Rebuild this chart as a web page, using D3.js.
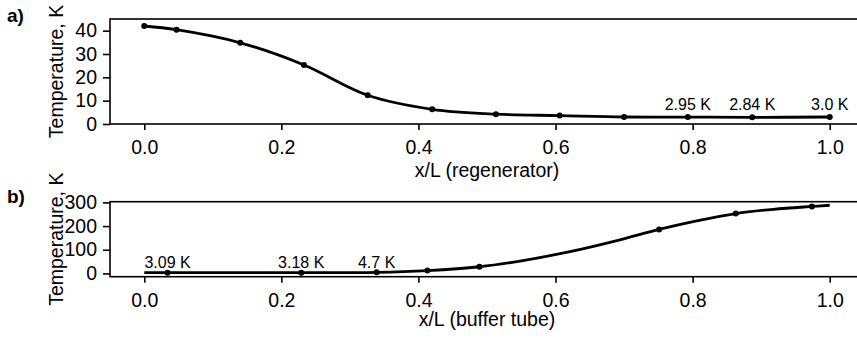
<!DOCTYPE html>
<html lang="en">
<head>
    <meta charset="UTF-8">
    <title>Temperature profiles</title>
    <script src="https://d3js.org/d3.v7.min.js"></script>
    <style>
        body { margin: 0; background: #fff; }
        svg { display: block; font-family: "Liberation Sans", Arial, sans-serif; }
        .tick text { font-size: 19.5px; fill: #000; }
        .tick line { stroke: #000; stroke-width: 1.6; }
        .frame { fill: none; stroke: #000; stroke-width: 1.6; }
        .curve { fill: none; stroke: #000; stroke-width: 2.8; }
    </style>
</head>
<body>
    <svg width="857" height="344"></svg>

    <script>
        // panel a: regenerator (markers)
        const regenX = [0.0, 0.047, 0.140, 0.233, 0.326, 0.420, 0.513, 0.606, 0.700, 0.793, 0.887, 1.0];
        const regenT = [42.0, 40.4, 34.8, 25.3, 12.3, 6.3, 4.2, 3.6, 3.0, 2.95, 2.84, 3.0];
        const regenLabels = [null, null, null, null, null, null, null, null, null, "2.95 K", "2.84 K", "3.0 K"];

        // panel b: buffer tube (markers)
        const bufferX = [0.034, 0.229, 0.339, 0.413, 0.489, 0.751, 0.863, 0.974];
        const bufferT = [3.09, 3.18, 4.7, 12, 28, 186, 253, 283];
        const bufferLabels = ["3.09 K", "3.18 K", "4.7 K", null, null, null, null, null];
        // points read along the drawn curve of panel b
        const bufferCurveX = [0.0, 0.034, 0.229, 0.339, 0.413, 0.489, 0.548, 0.621, 0.694, 0.751, 0.806, 0.863, 0.918, 0.974, 1.0];
        const bufferCurveT = [3.0, 3.09, 3.18, 4.7, 12, 28, 52, 92, 142, 186, 222, 253, 271, 283, 288];

        const xTicks = [0.0, 0.2, 0.4, 0.6, 0.8, 1.0];
        const regenYTicks = [0, 10, 20, 30, 40];
        const bufferYTicks = [0, 100, 200, 300];

        const svg = d3.select("svg");

        const x = d3.scaleLinear().domain([-0.05, 1.05]).range([110, 864]);

        const panels = [
            {
                tag: "a)", tagY: 22,
                y: d3.scaleLinear().domain([0, 45]).range([124, 19]),
                yTicks: regenYTicks,
                lineX: regenX, lineT: regenT,
                ptX: regenX, ptT: regenT, labels: regenLabels, labelDy: -7,
                xTitle: "x/L (regenerator)", xTitleY: 177
            },
            {
                tag: "b)", tagY: 203,
                y: d3.scaleLinear().domain([-14, 303]).range([276.7, 201.7]),
                yTicks: bufferYTicks,
                lineX: bufferCurveX, lineT: bufferCurveT,
                ptX: bufferX, ptT: bufferT, labels: bufferLabels, labelDy: -4.5,
                xTitle: "x/L (buffer tube)", xTitleY: 326
            }
        ];

        panels.forEach(p => {
            const [yBot, yTop] = p.y.range();
            const g = svg.append("g");

            // y axis
            g.append("g")
                .attr("transform", `translate(${x.range()[0]},0)`)
                .call(d3.axisLeft(p.y).tickValues(p.yTicks).tickFormat(d3.format("d"))
                    .tickSize(7).tickPadding(6))
                .call(a => a.select(".domain").remove())
                .selectAll("text").attr("font-family", null).attr("font-size", null);

            // x axis
            g.append("g")
                .attr("transform", `translate(0,${yBot})`)
                .call(d3.axisBottom(x).tickValues(xTicks).tickFormat(d3.format(".1f"))
                    .tickSize(6).tickPadding(10))
                .call(a => a.select(".domain").remove())
                .selectAll("text").attr("font-family", null).attr("font-size", null);

            // frame (right side falls outside the picture)
            g.append("rect").attr("class", "frame")
                .attr("x", x.range()[0]).attr("y", yTop)
                .attr("width", x.range()[1] - x.range()[0]).attr("height", yBot - yTop);

            const pts = p.lineX.map((v, i) => [v, p.lineT[i]]);
            g.append("path").attr("class", "curve")
                .attr("d", d3.line().x(d => x(d[0])).y(d => p.y(d[1])).curve(d3.curveCatmullRom.alpha(0.5))(pts));

            const marks = p.ptX.map((v, i) => ({ x: v, t: p.ptT[i], label: p.labels[i] }));
            g.selectAll("circle.pt").data(marks).enter().append("circle")
                .attr("class", "pt")
                .attr("cx", d => x(d.x)).attr("cy", d => p.y(d.t)).attr("r", 3)
                .attr("fill", "#000");

            g.selectAll("text.ann").data(marks.filter(d => d.label)).enter().append("text")
                .attr("class", "ann")
                .attr("x", d => x(d.x)).attr("y", d => p.y(d.t) + p.labelDy)
                .attr("text-anchor", "middle").attr("font-size", 16)
                .text(d => d.label);

            // axis titles
            g.append("text")
                .attr("transform", `translate(62.5,${(yTop + yBot) / 2}) rotate(-90)`)
                .attr("text-anchor", "middle").attr("font-size", 19.5)
                .text("Temperature, K");

            g.append("text")
                .attr("x", x(0.5)).attr("y", p.xTitleY)
                .attr("text-anchor", "middle").attr("font-size", 19.5)
                .text(p.xTitle);

            g.append("text")
                .attr("x", 7).attr("y", p.tagY)
                .attr("font-size", 19).attr("font-weight", "bold")
                .text(p.tag);
        });
    </script>
</body>
</html>
